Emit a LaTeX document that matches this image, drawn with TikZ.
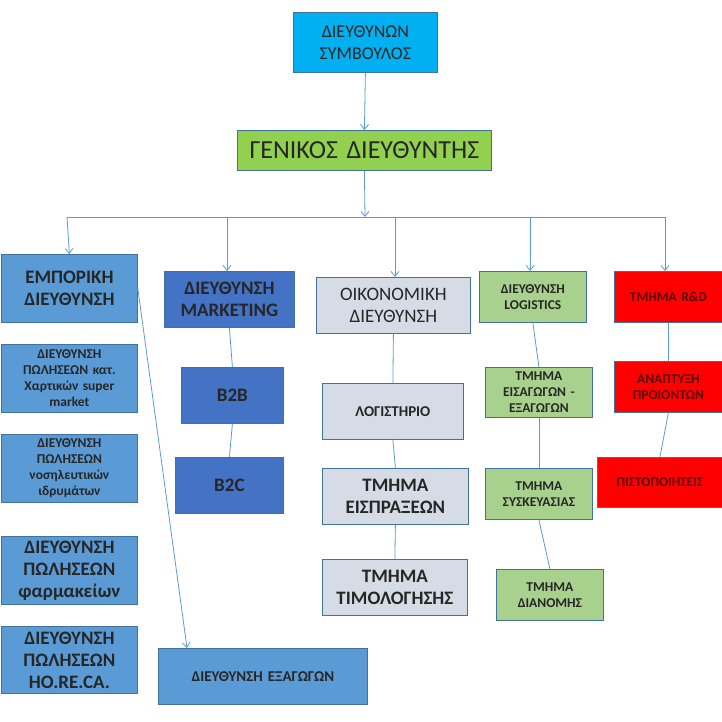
\documentclass[tikz,border=0pt]{standalone}
\usepackage{fontspec}
\setmainfont{Carlito}
\usetikzlibrary{arrows.meta}
\definecolor{cyanbox}{HTML}{00B0F0}
\definecolor{greenbox}{HTML}{92D050}
\definecolor{bluebox}{HTML}{5B9BD5}
\definecolor{darkblue}{HTML}{4472C4}
\definecolor{greybox}{HTML}{D6DCE5}
\definecolor{lightgreen}{HTML}{A9D18E}
\definecolor{linkcol}{HTML}{5B9BD5}
\definecolor{edgecol}{HTML}{41719C}
\definecolor{redtext}{HTML}{5A0000}
\tikzset{
  unit/.style={draw=edgecol, line width=0.8pt, anchor=north west, inner sep=1pt,
    align=center, text=black!85},
  big/.style={font=\fontsize{19}{22}\selectfont\bfseries},
  mid/.style={font=\fontsize{15}{17}\selectfont\bfseries},
  small/.style={font=\fontsize{13.5}{16}\selectfont\bfseries},
  link/.style={draw=linkcol, line width=0.8pt},
  arrowlink/.style={link, -{Straight Barb[length=5pt,width=8pt]}}
}
\newcommand{\unitbox}[7]{% name, x1, y1, x2, y2, options, text
  \node[unit, #6, minimum width={#4-#2}, minimum height={#5-#3},
    text width={#4-#2-6}] (#1) at (#2,#3) {#7};}
\begin{document}
\begin{tikzpicture}[x=1pt,y=-1pt]
\useasboundingbox (0,0) rectangle (722,722);

\unitbox{ceo}{293}{12}{437}{72}{fill=cyanbox, font=\fontsize{18}{22}\selectfont}{ΔΙΕΥΘΥΝΩΝ\\ΣΥΜΒΟΥΛΟΣ}
\unitbox{gm}{237}{130}{491}{170}{fill=greenbox, font=\fontsize{26}{28}\selectfont}{ΓΕΝΙΚΟΣ ΔΙΕΥΘΥΝΤΗΣ}

% emporiki
\unitbox{emp}{1}{254}{137}{322}{fill=bluebox, big}{ΕΜΠΟΡΙΚΗ\\ΔΙΕΥΘΥΝΣΗ}
\unitbox{sup}{1}{344}{137}{412}{fill=bluebox, small}{ΔΙΕΥΘΥΝΣΗ\\ΠΩΛΗΣΕΩΝ κατ.\\Χαρτικών super\\market}
\unitbox{hosp}{1}{434}{137}{502}{fill=bluebox, small}{ΔΙΕΥΘΥΝΣΗ\\ΠΩΛΗΣΕΩΝ\\νοσηλευτικών\\ιδρυμάτων}
\unitbox{pharm}{1}{536}{137}{604}{fill=bluebox, big}{ΔΙΕΥΘΥΝΣΗ\\ΠΩΛΗΣΕΩΝ\\φαρμακείων}
\unitbox{horeca}{1}{626}{137}{693}{fill=bluebox, big}{ΔΙΕΥΘΥΝΣΗ\\ΠΩΛΗΣΕΩΝ\\HO.RE.CA.}
\unitbox{exp}{158}{648}{367}{704}{fill=bluebox, mid}{ΔΙΕΥΘΥΝΣΗ ΕΞΑΓΩΓΩΝ}

% marketing
\unitbox{mkt}{164}{271}{294}{327}{fill=darkblue, big}{ΔΙΕΥΘΥΝΣΗ\\MARKETING}
\unitbox{btob}{181}{367}{283}{423}{fill=darkblue, big}{B2B}
\unitbox{btoc}{175}{457}{283}{513}{fill=darkblue, big}{B2C}

% oikonomiki
\unitbox{fin}{316}{277}{470}{333}{fill=greybox, font=\fontsize{19}{22}\selectfont}{ΟΙΚΟΝΟΜΙΚΗ\\ΔΙΕΥΘΥΝΣΗ}
\unitbox{acc}{322}{383}{463}{439}{fill=greybox, mid}{ΛΟΓΙΣΤΗΡΙΟ}
\unitbox{coll}{322}{468}{468}{524}{fill=greybox, big}{ΤΜΗΜΑ\\ΕΙΣΠΡΑΞΕΩΝ}
\unitbox{bill}{322}{559}{467}{615}{fill=greybox, big}{ΤΜΗΜΑ\\ΤΙΜΟΛΟΓΗΣΗΣ}

% logistics
\unitbox{log}{479}{271}{586}{322}{fill=lightgreen, small}{ΔΙΕΥΘΥΝΣΗ\\LOGISTICS}
\unitbox{impexp}{485}{367}{592}{417}{fill=lightgreen, small}{ΤΜΗΜΑ\\ΕΙΣΑΓΩΓΩΝ -\\ΕΞΑΓΩΓΩΝ}
\unitbox{pack}{485}{468}{592}{519}{fill=lightgreen, small}{ΤΜΗΜΑ\\ΣΥΣΚΕΥΑΣΙΑΣ}
\unitbox{dist}{496}{569}{603}{620}{fill=lightgreen, small}{ΤΜΗΜΑ\\ΔΙΑΝΟΜΗΣ}

% r&d
\unitbox{rnd}{614}{271}{722}{322}{fill=red, small, text=redtext}{ΤΜΗΜΑ R\&D}
\unitbox{dev}{614}{361}{722}{412}{fill=red, small, text=redtext}{ΑΝΑΠΤΥΞΗ\\ΠΡΟΙΟΝΤΩΝ}
\unitbox{cert}{597}{457}{722}{507}{fill=red, small, text=redtext}{ΠΙΣΤΟΠΟΙΗΣΕΙΣ}

% connectors
\coordinate (bus) at (365,217);
\coordinate (busl) at (67,217);
\coordinate (busr) at (665,217);
\draw[arrowlink] (ceo.south) -- (gm.north);
\draw[arrowlink] (gm.south) -- (bus);
\draw[link] (busl) -- (busr);
\draw[arrowlink] (busl) -- (emp.north);
\foreach \top/\xx in {mkt/227, fin/395, log/530, rnd/665}
  \draw[arrowlink] (\xx,217) -- (\xx,0 |- \top.north);
\draw[link] (mkt.south) -- (btob.north);
\draw[link] (btob.south) -- (btoc.north);
\draw[link] (fin.south) -- (acc.north);
\draw[link] (acc.south) -- (coll.north);
\draw[link] (coll.south) -- (bill.north);
\draw[link] (log.south) -- (impexp.north);
\draw[link] (impexp.south) -- (pack.north);
\draw[link] (pack.south) -- (dist.north);
\draw[link] (rnd.south) -- (dev.north);
\draw[link] (dev.south) -- (cert.north);
\draw[arrowlink] (emp.east) -- (187,648);
\end{tikzpicture}
\end{document}
